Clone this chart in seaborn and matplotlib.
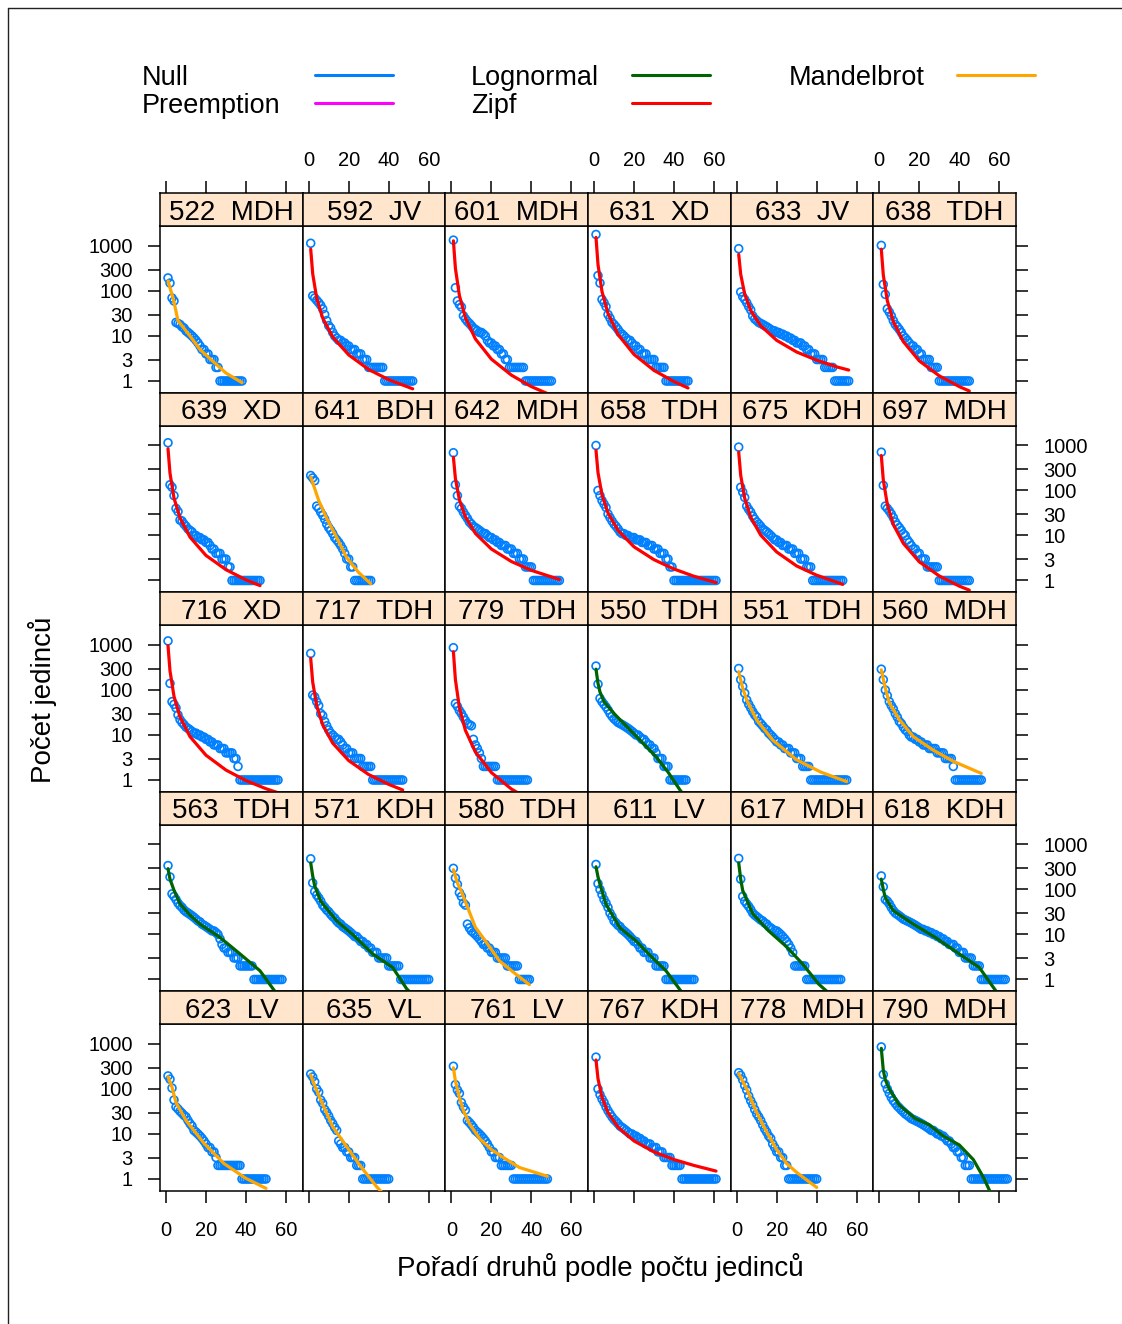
import numpy as np
import pandas as pd
import matplotlib
matplotlib.use("Agg")
import matplotlib.pyplot as plt
from matplotlib.lines import Line2D
from matplotlib.ticker import FixedLocator, NullLocator
import seaborn as sns

sns.set_theme(style="white")
plt.rcParams['font.family'] = ['Liberation Sans', 'DejaVu Sans']
plt.rcParams.update({"text.color": "black", "axes.labelcolor": "black",
                     "xtick.color": "black", "ytick.color": "black",
                     "axes.edgecolor": "black"})

# species abundances in rank order, one list per plot
a522 = [195, 150, 70, 60, 20, 19, 18, 16, 15, 13, 12, 11, 10, 9, 8, 7, 6, 5, 5, 4, 4, 3, 3, 3] + [2] * 2 + [1] * 12
a592 = [1150, 78, 70, 62, 55, 48, 40, 30, 22, 17, 15, 12, 10, 9, 8, 8, 7, 7, 6, 6, 5, 5, 5, 4, 4, 4, 3, 3, 3] + [2] * 8 + [1] * 15
a601 = [1350, 118, 60, 50, 44, 28, 24, 21, 19, 17, 15, 14, 13, 12, 12, 11, 10, 8, 7, 7, 6, 6, 5, 5, 4, 4, 3, 3] + [2] * 8 + [1] * 14
a631 = [1800, 220, 150, 65, 55, 45, 30, 25, 20, 18, 16, 14, 12, 11, 10, 9, 8, 8, 7, 6, 6, 5, 5, 4, 4, 4, 3, 3, 3, 3] + [2] * 5 + [1] * 12
a633 = [870, 95, 75, 65, 55, 45, 38, 28, 24, 22, 20, 19, 18, 17, 16, 15, 14, 13, 13, 12, 12, 11, 11, 10, 10,
        9, 9, 8, 8, 7, 7, 7, 6, 6, 5, 5, 4, 4, 4, 3, 3, 3, 3] + [2] * 5 + [1] * 8
a638 = [1030, 140, 84, 40, 34, 28, 22, 18, 16, 14, 12, 10, 9, 8, 7, 6, 6, 5, 5, 4, 4, 3, 3, 3, 3] + [2] * 4 + [1] * 16
a639 = [1150, 134, 118, 77, 40, 34, 22, 21, 18, 16, 14, 13, 12, 10, 10, 9, 9, 8, 8, 7, 7, 6, 5, 5, 4, 4, 4, 3, 3, 3] + [2] * 2 + [1] * 15
a641 = [215, 190, 165, 45, 40, 33, 28, 23, 18, 15, 13, 11, 9, 8, 7, 6, 5, 4, 3, 3] + [2] * 2 + [1] * 9
a642 = [690, 134, 77, 45, 40, 33, 28, 24, 20, 18, 16, 15, 14, 13, 12, 11, 11, 10, 9, 9, 8, 8, 7, 7, 6, 6, 6,
        5, 5, 5, 4, 4, 4, 3, 3, 3] + [2] * 4 + [1] * 14
a658 = [1000, 100, 77, 60, 50, 42, 30, 25, 21, 18, 16, 14, 12, 11, 11, 10, 10, 9, 9, 9, 8, 8, 8, 7, 7, 7,
        6, 6, 6, 5, 5, 5, 4, 4, 4, 3, 3] + [2] * 2 + [1] * 22
a675 = [920, 118, 92, 70, 45, 38, 33, 27, 23, 20, 18, 16, 14, 13, 12, 11, 10, 9, 8, 8, 7, 7, 6, 6, 6, 5, 5, 5,
        4, 4, 4, 3, 3, 3] + [2] * 3 + [1] * 16
a697 = [710, 130, 45, 40, 35, 30, 25, 20, 17, 15, 13, 11, 10, 8, 7, 6, 5, 5, 4, 4, 3, 3, 3] + [2] * 6 + [1] * 16
a716 = [1230, 140, 55, 48, 40, 28, 22, 19, 17, 15, 14, 13, 12, 11, 11, 10, 10, 9, 9, 8, 8, 7, 7, 6, 6, 6,
        5, 5, 5, 4, 4, 4, 4, 3, 3, 2] + [1] * 20
a717 = [650, 77, 70, 55, 45, 30, 27, 20, 16, 13, 11, 10, 9, 8, 8, 7, 6, 5, 5, 4, 4, 4, 3, 3, 3, 3] + [2] * 5 + [1] * 16
a779 = [870, 50, 43, 35, 30, 25, 21, 18, 17, 16, 8, 6, 5, 4, 3] + [2] * 7 + [1] * 16
a550 = [340, 135, 65, 55, 48, 42, 36, 30, 26, 23, 21, 19, 18, 17, 16, 15, 14, 13, 12, 11, 10, 10, 9, 8, 8,
        7, 6, 6, 5, 5, 4, 3, 3, 3] + [2] * 3 + [1] * 9
a551 = [300, 170, 120, 85, 60, 48, 40, 33, 28, 25, 20, 18, 16, 14, 13, 11, 10, 9, 8, 7, 7, 6, 6, 5, 5, 5,
        4, 4, 4, 3, 3, 3] + [2] * 4 + [1] * 19
a560 = [290, 170, 100, 75, 55, 45, 38, 30, 25, 20, 18, 15, 13, 12, 10, 9, 9, 8, 8, 7, 7, 6, 6, 6, 5, 5, 5, 5,
        4, 4, 4, 4, 3, 3, 3, 3] + [2] + [1] * 14
a563 = [340, 190, 80, 70, 60, 50, 44, 40, 35, 32, 30, 28, 26, 24, 22, 20, 19, 17, 16, 15, 14, 13, 12, 12, 11,
        10, 8, 6, 5, 5, 4, 4, 4, 3, 3, 3] + [2] * 7 + [1] * 15
a571 = [480, 140, 90, 75, 65, 55, 45, 40, 35, 32, 28, 25, 23, 20, 18, 17, 15, 14, 13, 12, 11, 10, 9, 9, 8,
        7, 7, 6, 6, 5, 5, 4, 4, 4, 3, 3, 3, 3, 3] + [2] * 6 + [1] * 15
a580 = [295, 180, 130, 85, 70, 50, 45, 17, 14, 12, 11, 10, 9, 8, 7, 6, 6, 5, 5, 4, 4, 4, 3, 3, 3, 3, 3] + [2] * 6 + [1] * 6
a611 = [360, 135, 100, 77, 60, 50, 40, 30, 25, 20, 18, 16, 15, 13, 12, 11, 10, 9, 8, 7, 7, 6, 5, 5, 4, 4, 4,
        3, 3, 3] + [2] * 5 + [1] * 15
a617 = [490, 170, 70, 55, 48, 42, 36, 30, 27, 25, 23, 21, 20, 18, 17, 15, 14, 13, 12, 12, 11, 10, 9, 8, 7,
        6, 5, 4] + [2] * 6 + [1] * 18
a618 = [200, 115, 60, 55, 48, 40, 34, 30, 28, 26, 24, 22, 21, 20, 19, 18, 17, 16, 15, 14, 13, 13, 12, 12, 11,
        11, 10, 10, 9, 9, 8, 8, 7, 7, 6, 6, 6, 5, 5, 4, 4, 4, 3, 3, 3, 3] + [2] * 4 + [1] * 13
a623 = [195, 165, 105, 57, 40, 36, 32, 29, 26, 24, 20, 17, 15, 12, 11, 10, 9, 8, 7, 6, 5, 5, 4, 4, 3] + [2] * 12 + [1] * 13
a635 = [215, 185, 145, 100, 85, 57, 48, 35, 30, 25, 20, 17, 14, 12, 7, 6, 5, 5, 4, 4, 3, 3, 3] + [2] * 3 + [1] * 14
a761 = [320, 125, 95, 80, 50, 40, 34, 20, 18, 16, 14, 12, 11, 10, 9, 8, 7, 6, 5, 4, 4, 3, 3, 3] + [2] * 6 + [1] * 18
a767 = [510, 100, 75, 60, 50, 40, 33, 28, 24, 21, 19, 17, 15, 14, 13, 12, 11, 10, 10, 9, 9, 8, 8, 7, 7,
        6, 6, 6, 5, 5, 5, 4, 4, 4, 3, 3, 3, 3] + [2] * 5 + [1] * 18
a778 = [230, 200, 160, 120, 95, 70, 55, 45, 35, 28, 24, 20, 16, 13, 11, 9, 8, 6, 5, 4, 4, 3, 3] + [2] * 2 + [1] * 15
a790 = [860, 210, 130, 100, 80, 65, 55, 48, 42, 38, 34, 31, 28, 26, 24, 22, 21, 20, 19, 18, 17, 16, 15, 14,
        13, 12, 12, 11, 10, 10, 9, 9, 8, 7, 7, 6, 5, 5, 4, 4, 3, 3] + [2] * 3 + [1] * 19

# best fitted model curve of each plot, (ranks, fitted abundance)
f522 = ([1, 3.7, 6, 12, 17, 24, 30, 38], [167, 65, 22, 10, 5, 2.6, 1.5, 0.92])
f592 = ([1, 2, 4, 7, 12, 20, 30, 40, 52], [850, 242, 69, 25, 9.5, 3.8, 1.8, 1.07, 0.67])
f601 = ([1, 2, 4, 7, 12, 20, 30, 40, 50], [1300, 320, 79, 25.5, 8.6, 3.06, 1.35, 0.75, 0.48])
f631 = ([1, 2, 4, 7, 12, 20, 30, 40, 47], [1550, 387, 97, 31.6, 10.8, 3.9, 1.72, 0.97, 0.70])
f633 = ([1, 2, 4, 7, 12, 20, 30, 40, 50, 56], [650, 235, 85, 37, 16.9, 8.0, 4.4, 2.9, 2.06, 1.75])
f638 = ([1, 2, 4, 7, 12, 20, 30, 40, 45], [850, 227, 61, 21, 7.5, 2.8, 1.3, 0.75, 0.6])
f639 = ([1, 2, 4, 7, 12, 20, 30, 40, 47], [850, 241, 68, 24.6, 9.2, 3.6, 1.74, 1.03, 0.77])
f641 = ([1, 3, 5, 9, 14, 19, 25, 31], [200, 110, 60, 24, 9, 3.2, 1.5, 0.85])
f642 = ([1, 2, 4, 7, 12, 20, 30, 40, 54], [550, 185, 62, 26, 11.1, 5.0, 2.64, 1.68, 1.05])
f658 = ([1, 2, 4, 7, 12, 20, 30, 40, 50, 61], [780, 249, 80, 31.7, 13, 5.6, 2.9, 1.8, 1.24, 0.9])
f675 = ([1, 2, 4, 7, 12, 20, 30, 40, 53], [710, 218, 67, 25.6, 10.2, 4.3, 2.1, 1.31, 0.82])
f697 = ([1, 2, 4, 7, 12, 20, 30, 40, 45], [600, 171, 49, 17.6, 6.7, 2.6, 1.26, 0.75, 0.61])
f716 = ([1, 2, 4, 7, 12, 20, 30, 40, 50, 56], [970, 265, 72, 25.3, 9.2, 3.55, 1.66, 0.97, 0.64, 0.52])
f717 = ([1, 2, 4, 7, 12, 20, 30, 40, 47], [505, 150, 45, 16.8, 6.6, 2.7, 1.32, 0.80, 0.6])
f779 = ([1, 2, 4, 7, 12, 20, 30, 38], [710, 170, 40.5, 12.7, 4.2, 1.46, 0.63, 0.39])
f550 = ([1, 2, 3, 5, 10, 16, 23, 31, 37, 43, 46], [290, 140, 90, 55, 30, 16, 7.7, 3.3, 1.5, 0.6, 0.4])
f551 = ([1, 3, 5, 10, 18, 30, 42, 55], [255, 110, 60, 21.5, 7.7, 2.8, 1.5, 0.92])
f560 = ([1, 3, 5, 10, 17, 27, 37, 51], [280, 110, 52, 22, 9.2, 4.6, 2.6, 1.4])
f563 = ([1, 2, 4, 7, 12, 17, 27, 37, 47, 54, 58], [290, 170, 96, 48, 27, 17, 8.6, 3.7, 1.56, 0.58, 0.35])
f571 = ([1, 2, 3, 6, 14, 22, 32, 42, 49, 60], [390, 200, 120, 55, 20, 10, 3.7, 1.85, 0.62, 0.2])
f580 = ([1, 3, 5, 8.5, 12, 18, 24, 31, 39], [275, 140, 90, 36, 14.5, 6.2, 2.6, 1.45, 0.77])
f611 = ([1, 2, 3, 6, 13, 21, 29, 36, 43, 50], [320, 190, 130, 47, 14, 7.2, 3.1, 1.56, 0.59, 0.25])
f617 = ([1, 2, 3, 8, 16, 25, 33, 41, 45, 52], [390, 170, 95, 29, 12, 5.3, 2.2, 0.79, 0.55, 0.3])
f618 = ([1, 2, 3, 7, 17, 28, 40, 50, 58, 63], [170, 100, 66, 34, 17, 8.6, 3.7, 1.85, 0.58, 0.3])
f623 = ([1, 3, 5, 10, 19, 29, 40, 50], [187, 110, 50, 20, 6.2, 2.2, 1.03, 0.62])
f635 = ([1, 3, 6, 12, 19, 26, 34, 40], [205, 120, 57, 14.6, 5.2, 1.9, 0.67, 0.35])
f761 = ([1, 2, 4, 6, 9, 14, 20, 25, 34, 48], [295, 150, 65, 33, 17, 8, 4.5, 3.2, 1.8, 1.15])
f767 = ([1, 2, 4, 7, 12, 20, 30, 40, 50, 61], [440, 169, 65, 30, 14.2, 7.0, 4.0, 2.7, 2.0, 1.5])
f778 = ([1, 5, 10, 15, 20, 25, 30, 35, 40], [220, 100, 30, 11, 4.5, 2.2, 1.4, 0.95, 0.65])
f790 = ([1, 2, 3, 5, 10, 18, 25, 32, 40, 47, 52, 55, 64], [800, 260, 160, 100, 44, 22, 16, 9, 5.7, 2.7, 1.1, 0.57, 0.1])

plot_ids = ["522", "592", "601", "631", "633", "638",
            "639", "641", "642", "658", "675", "697",
            "716", "717", "779", "550", "551", "560",
            "563", "571", "580", "611", "617", "618",
            "623", "635", "761", "767", "778", "790"]
plot_types = ["MDH", "JV", "MDH", "XD", "JV", "TDH",
              "XD", "BDH", "MDH", "TDH", "KDH", "MDH",
              "XD", "TDH", "TDH", "TDH", "TDH", "MDH",
              "TDH", "KDH", "TDH", "LV", "MDH", "KDH",
              "LV", "VL", "LV", "KDH", "MDH", "MDH"]
best_model = ["Mandelbrot", "Zipf", "Zipf", "Zipf", "Zipf", "Zipf",
              "Zipf", "Mandelbrot", "Zipf", "Zipf", "Zipf", "Zipf",
              "Zipf", "Zipf", "Zipf", "Lognormal", "Mandelbrot", "Mandelbrot",
              "Lognormal", "Lognormal", "Mandelbrot", "Lognormal", "Lognormal", "Lognormal",
              "Mandelbrot", "Mandelbrot", "Mandelbrot", "Zipf", "Mandelbrot", "Lognormal"]
abundances = [a522, a592, a601, a631, a633, a638, a639, a641, a642, a658, a675, a697,
              a716, a717, a779, a550, a551, a560, a563, a571, a580, a611, a617, a618,
              a623, a635, a761, a767, a778, a790]
fits = [f522, f592, f601, f631, f633, f638, f639, f641, f642, f658, f675, f697,
        f716, f717, f779, f550, f551, f560, f563, f571, f580, f611, f617, f618,
        f623, f635, f761, f767, f778, f790]

model_names = ["Null", "Preemption", "Lognormal", "Zipf", "Mandelbrot"]
model_colors = ["#0080ff", "#ff00ff", "#006400", "#ff0000", "#ffa500"]
color_of = dict(zip(model_names, model_colors))

y_ticks = [1, 3, 10, 30, 100, 300, 1000]
x_ticks = [0, 20, 40, 60]

W, H = 1122, 1324
fig = plt.figure(figsize=(W / 100, H / 100), dpi=100)


def rect(x0, y0, w, h):
    # pixel box (top-left origin) -> figure fraction
    return [x0 / W, 1 - (y0 + h) / H, w / W, h / H]


col_left = [160, 302.7, 445.4, 588, 730.7, 873.3]
col_w = 142.7
strip_top0 = 193
row_step = 199.5
strip_h = 33
panel_h = 166.5
tick_len = 8.6
lab_size = 14.5

for i, pid in enumerate(plot_ids):
    row, col = i // 6, i % 6
    top = strip_top0 + row * row_step
    ax = fig.add_axes(rect(col_left[col], top + strip_h, col_w, panel_h))
    sax = fig.add_axes(rect(col_left[col], top, col_w, strip_h))

    ab = abundances[i]
    df = pd.DataFrame({"rank": np.arange(1, len(ab) + 1), "abund": ab})
    sns.scatterplot(data=df, x="rank", y="abund", ax=ax, marker="o", s=32,
                    facecolor="none", edgecolor="#0080ff", linewidth=1.2,
                    legend=False, zorder=2)
    fr, fv = fits[i]
    fdf = pd.DataFrame({"rank": fr, "fit": fv})
    sns.lineplot(data=fdf, x="rank", y="fit", ax=ax, color=color_of[best_model[i]],
                 linewidth=2.3, legend=False, zorder=3)

    ax.set_yscale("log")
    ax.set_xlim(-3, 68.35)
    ax.set_ylim(0.555, 2780)
    ax.yaxis.set_major_locator(FixedLocator(y_ticks))
    ax.yaxis.set_minor_locator(NullLocator())
    ax.set_yticklabels([str(t) for t in y_ticks])
    ax.set_xticks(x_ticks)
    ax.set_xticklabels([str(t) for t in x_ticks])
    ax.set_xlabel("")
    ax.set_ylabel("")
    ax.tick_params(axis="both", which="both", direction="out", length=tick_len, width=1.1,
                   labelsize=lab_size, top=False, labeltop=False,
                   left=(col == 0), labelleft=(col == 0 and row % 2 == 0),
                   right=(col == 5), labelright=(col == 5 and row % 2 == 1),
                   bottom=(row == 4), labelbottom=(row == 4 and col % 2 == 0))
    ax.tick_params(axis="y", pad=11)
    ax.tick_params(axis="x", pad=13)
    for sp in ax.spines.values():
        sp.set_color("black")
        sp.set_linewidth(1.1)

    sax.set_facecolor("#ffe5cc")
    sax.set_xlim(-3, 68.35)
    sax.set_ylim(0, 1)
    sax.set_xticks(x_ticks)
    sax.set_xticklabels([str(t) for t in x_ticks])
    sax.set_yticks([])
    sax.tick_params(axis="x", direction="out", length=tick_len, width=1.1, labelsize=lab_size,
                    bottom=False, labelbottom=False, top=(row == 0),
                    labeltop=(row == 0 and col % 2 == 1), pad=8)
    for sp in sax.spines.values():
        sp.set_color("black")
        sp.set_linewidth(1.1)
    sax.text(0.5, 0.40, f"{pid}  {plot_types[i]}", transform=sax.transAxes,
             ha="center", va="center", fontsize=20)

# key at the top
key_text_x = [142, 142, 471, 471, 789]
key_line_x = [315, 315, 632, 632, 957]
key_y = [78, 106, 78, 106, 78]
for name, c, tx, lx, ky in zip(model_names, model_colors, key_text_x, key_line_x, key_y):
    fig.text(tx / W, 1 - ky / H, name, ha="left", va="center", fontsize=19.5)
    fig.add_artist(Line2D([lx / W, (lx + 78) / W], [1 - (ky - 3) / H] * 2, color=c, lw=2.2))

fig.text(600 / W, 1 - 1268 / H, "Pořadí druhů podle počtu jedinců",
         ha="center", va="center", fontsize=20)
fig.text(43 / W, 1 - 700 / H, "Počet jedinců", ha="center", va="center",
         rotation=90, fontsize=20)

# outer frame lines (top and left)
fig.add_artist(Line2D([8 / W, 1], [1 - 8 / H] * 2, color="#222222", lw=1.0))
fig.add_artist(Line2D([8 / W, 8 / W], [0, 1 - 8 / H], color="#222222", lw=1.0))

fig.savefig("out.png", dpi=100)
